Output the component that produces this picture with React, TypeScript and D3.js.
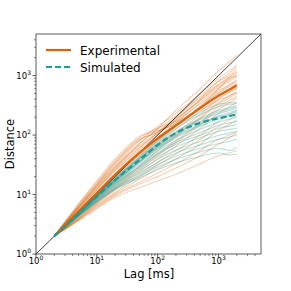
import * as d3 from "d3";

const lags = [2, 5, 10, 20, 50, 100, 200, 500, 1000, 1500, 2000];

const expMean = [2, 5.2, 10.6, 21.5, 50, 88, 145, 285, 460, 580, 690];
const simMean = [2, 4.8, 9.3, 17.5, 38, 68, 108, 160, 192, 208, 222];

const expTracks = [
  [2, 6, 14, 32, 80, 140, 230, 500, 900, 1200, 1500],
  [2, 6.5, 15, 35, 85, 110, 180, 400, 800, 1100, 1400],
  [2, 7, 17, 40, 95, 120, 150, 300, 600, 900, 1100],
  [2, 6, 13, 28, 70, 130, 260, 600, 1200, 1700, 2200],
  [2, 5.5, 12, 26, 60, 110, 200, 420, 700, 900, 1000],
  [2, 5, 10, 20, 48, 90, 160, 350, 600, 800, 950],
  [2, 5, 10, 19, 42, 80, 140, 300, 500, 650, 750],
  [2, 4.5, 8.5, 16, 35, 65, 110, 220, 400, 520, 620],
  [2, 4.2, 7.5, 13, 26, 45, 75, 150, 270, 350, 420],
  [2, 4, 7, 12, 22, 35, 55, 100, 170, 220, 260],
  [2, 3.8, 6.5, 10.5, 18, 27, 40, 70, 120, 150, 180],
  [2, 3.7, 6, 9.5, 15, 20, 28, 45, 70, 90, 110],
  [2, 3.6, 5.8, 9, 13, 17, 22, 33, 45, 50, 55],
  [2, 3.8, 6.3, 10, 16, 23, 33, 55, 85, 100, 115],
  [2, 5.8, 12.5, 27, 62, 105, 170, 330, 550, 700, 850],
  [2, 6.2, 14, 30, 72, 125, 210, 450, 800, 1000, 1250],
  [2, 5.3, 11, 23, 52, 90, 150, 280, 450, 560, 650],
  [2, 4.8, 9.5, 18, 40, 72, 125, 250, 420, 530, 600],
  [2, 4.4, 8, 15, 30, 55, 95, 190, 330, 420, 500],
  [2, 6.8, 16, 37, 90, 130, 170, 260, 380, 460, 520],
  [2, 6.4, 15, 34, 82, 115, 160, 280, 450, 560, 640],
  [2, 4, 7.2, 12.5, 24, 40, 65, 130, 230, 300, 350],
  [2, 3.9, 6.8, 11, 20, 31, 48, 85, 140, 180, 210],
  [2, 5.6, 12, 25, 56, 100, 180, 380, 650, 850, 1000],
  [2, 5.1, 10.5, 21, 46, 82, 140, 290, 520, 680, 800],
  [2, 4.6, 9, 17, 36, 62, 100, 200, 350, 450, 540],
  [2, 6, 13.5, 29, 66, 112, 190, 380, 700, 950, 1150],
  [2, 4.3, 7.8, 14, 28, 48, 80, 160, 300, 380, 450],
];

const simTracks = [
  [2, 4.9, 9.6, 18.5, 42, 75, 130, 220, 300, 330, 340],
  [2, 4.9, 9.5, 18, 40, 70, 115, 190, 260, 290, 310],
  [2, 4.8, 9.3, 17.5, 38, 66, 105, 170, 230, 260, 280],
  [2, 4.8, 9.2, 17, 36, 62, 98, 155, 210, 240, 260],
  [2, 4.7, 9, 16.5, 34, 58, 90, 140, 185, 210, 230],
  [2, 4.7, 8.9, 16, 32, 54, 82, 125, 165, 185, 200],
  [2, 4.6, 8.7, 15.5, 30, 50, 75, 110, 145, 160, 170],
  [2, 4.6, 8.6, 15, 29, 47, 70, 100, 130, 140, 150],
  [2, 4.5, 8.4, 14.5, 27, 43, 63, 90, 115, 125, 130],
  [2, 4.5, 8.2, 14, 25, 39, 56, 78, 98, 108, 115],
  [2, 4.4, 8, 13.5, 23, 35, 50, 68, 85, 92, 100],
  [2, 4.4, 7.8, 13, 21, 32, 44, 60, 72, 78, 85],
  [2, 4.3, 7.6, 12.5, 20, 29, 39, 52, 60, 55, 62],
  [2, 4.3, 7.5, 12, 19, 26, 34, 44, 50, 46, 48],
  [2, 4.9, 9.7, 19, 44, 80, 140, 240, 330, 350, 360],
  [2, 4.8, 9.4, 17.8, 39, 68, 110, 180, 245, 275, 295],
  [2, 4.7, 9.1, 16.8, 35, 60, 94, 148, 200, 225, 245],
];

const majorTicks = [1, 10, 100, 1000];
const tickExps = ["0", "1", "2", "3"];

const ORANGE = "#d9650a";
const TEAL = "#1a9e9c";

export default function App() {
  const left = 36;
  const right = 261;
  const top = 34;
  const bottom = 254;

  const x = d3.scaleLog().domain([1, 5000]).range([left, right]);
  const y = d3.scaleLog().domain([1, 5000]).range([bottom, top]);

  const line = d3
    .line<number>()
    .x((_, i) => x(lags[i]))
    .y((d) => y(d))
    .curve(d3.curveMonotoneX);

  const minor: number[] = [];
  for (const base of [1, 10, 100, 1000]) {
    for (let k = 2; k <= 9; k++) {
      if (base * k < 5000) minor.push(base * k);
    }
  }

  const font = "DejaVu Sans, sans-serif";

  return (
    <svg width={291} height={291} style={{ position: "absolute", left: 0, top: 0 }}>
      <rect width={291} height={291} fill="white" />
      <defs>
        <clipPath id="plot">
          <rect x={left} y={top} width={right - left} height={bottom - top} />
        </clipPath>
      </defs>
      <g clipPath="url(#plot)">
        {expTracks.map((t, i) => (
          <path key={"e" + i} d={line(t)!} fill="none" stroke={ORANGE} strokeOpacity={0.3} strokeWidth={1.1} />
        ))}
        {simTracks.map((t, i) => (
          <path key={"s" + i} d={line(t)!} fill="none" stroke={TEAL} strokeOpacity={0.32} strokeWidth={1.1} />
        ))}
        <line x1={x(1)} y1={y(1)} x2={x(5000)} y2={y(5000)} stroke="#111" strokeWidth={0.8} />
        <path d={line(expMean)!} fill="none" stroke={ORANGE} strokeWidth={2.2} />
        <path d={line(simMean)!} fill="none" stroke={TEAL} strokeWidth={2.2} strokeDasharray="6,3" />
      </g>
      <rect x={left} y={top} width={right - left} height={bottom - top} fill="none" stroke="#333" strokeWidth={0.8} />
      {majorTicks.map((t, i) => (
        <g key={"xt" + t}>
          <line x1={x(t)} x2={x(t)} y1={bottom} y2={bottom + 3.5} stroke="#333" strokeWidth={0.8} />
          <text x={x(t)} y={bottom + 10} textAnchor="middle" fontFamily={font} fontSize={8.5}>
            10<tspan dy={-4} fontSize={6}>{tickExps[i]}</tspan>
          </text>
          <line x1={left} x2={left - 3.5} y1={y(t)} y2={y(t)} stroke="#333" strokeWidth={0.8} />
          <text x={left - 5} y={y(t) + 3} textAnchor="end" fontFamily={font} fontSize={8.5}>
            10<tspan dy={-4} fontSize={6}>{tickExps[i]}</tspan>
          </text>
        </g>
      ))}
      {minor.map((t) => (
        <g key={"m" + t}>
          <line x1={x(t)} x2={x(t)} y1={bottom} y2={bottom + 2} stroke="#333" strokeWidth={0.6} />
          <line x1={left} x2={left - 2} y1={y(t)} y2={y(t)} stroke="#333" strokeWidth={0.6} />
        </g>
      ))}
      <text x={149} y={278} textAnchor="middle" fontFamily={font} fontSize={11.5}>
        Lag [ms]
      </text>
      <text
        transform={`translate(14,${(top + bottom) / 2}) rotate(-90)`}
        textAnchor="middle"
        fontFamily={font}
        fontSize={11.5}
      >
        Distance
      </text>
      <line x1={46} x2={71} y1={50} y2={50} stroke={ORANGE} strokeWidth={2.2} />
      <text x={80} y={54.5} fontFamily={font} fontSize={12}>
        Experimental
      </text>
      <line x1={46} x2={71} y1={67} y2={67} stroke={TEAL} strokeWidth={2.2} strokeDasharray="6,3" />
      <text x={80} y={71.5} fontFamily={font} fontSize={12}>
        Simulated
      </text>
    </svg>
  );
}
